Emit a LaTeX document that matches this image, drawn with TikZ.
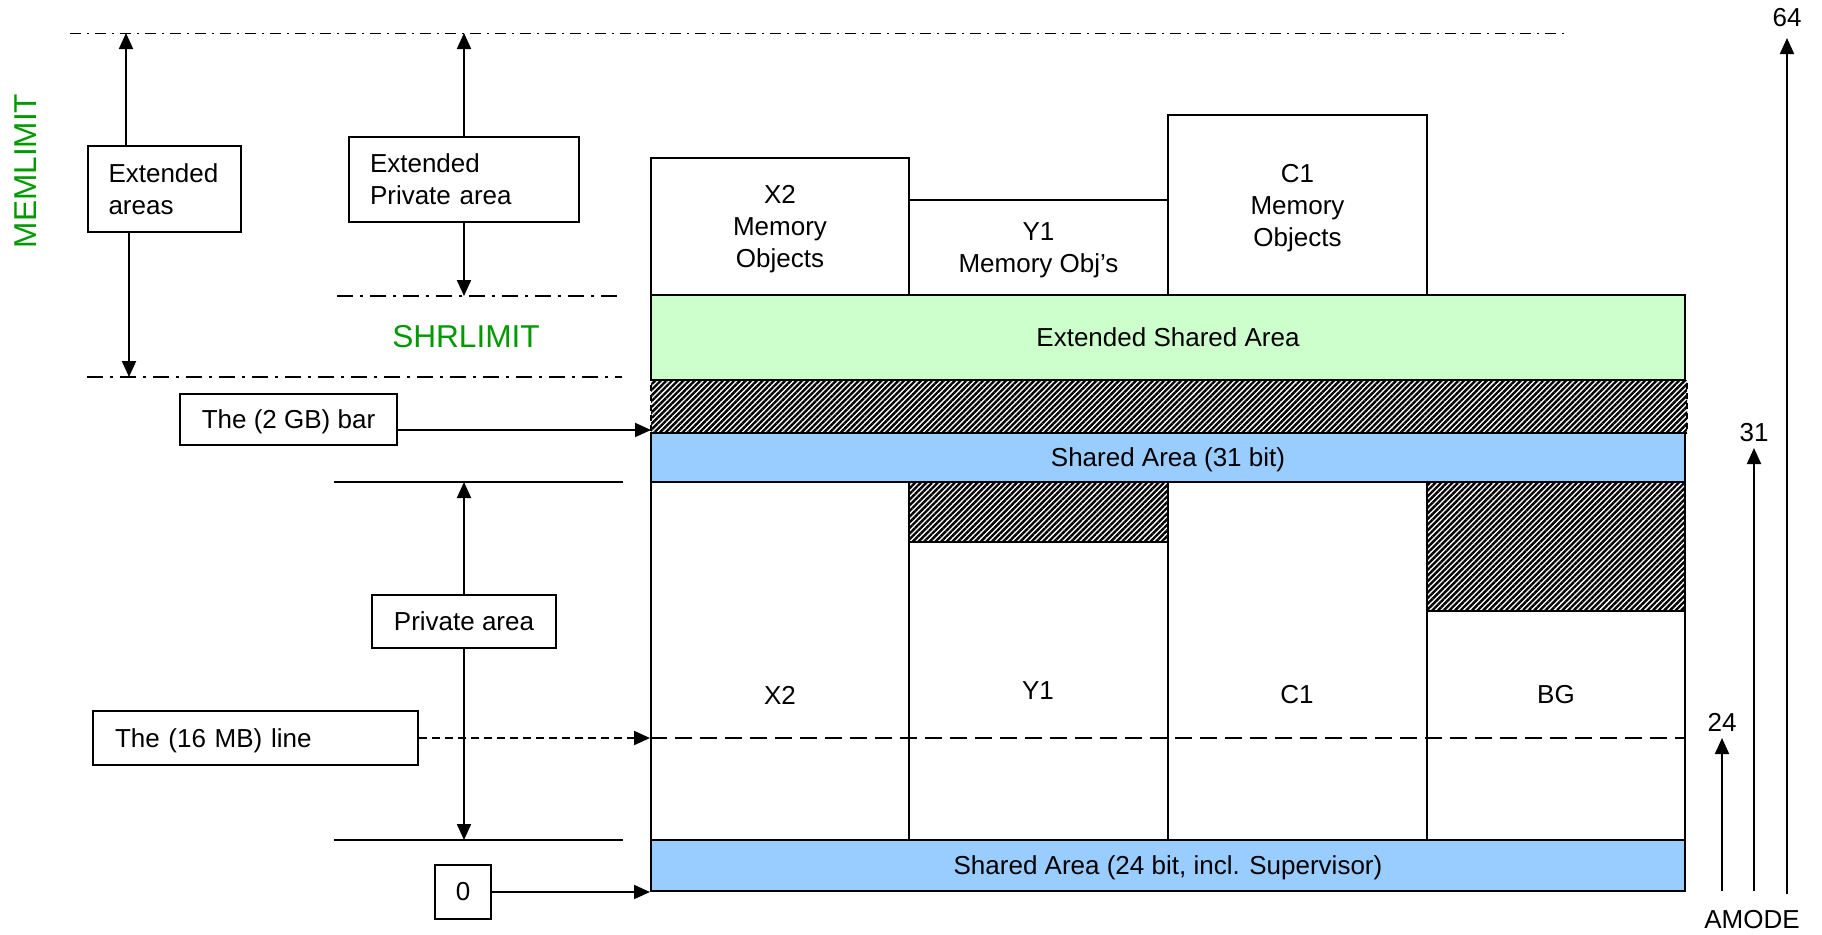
\documentclass[tikz,border=0pt]{standalone}
\usepackage{fontspec}
\setmainfont{Liberation Sans}
\usetikzlibrary{arrows.meta,patterns.meta,calc}
\definecolor{extgreen}{HTML}{CCFFCC}
\definecolor{shblue}{HTML}{99CCFF}
\definecolor{limgreen}{RGB}{0,153,0}
\newcommand\mfs{\fontsize{13pt}{16pt}\selectfont}
\newcommand\gfs{\fontsize{15.8pt}{19pt}\selectfont}
\begin{document}
\begin{tikzpicture}[x=0.5pt,y=-0.5pt,
  region/.style={draw, line width=1pt, inner sep=0pt, font=\mfs, align=center, text depth=0pt},
  hatch/.style={draw, line width=0.8pt, inner sep=0pt, pattern={Lines[angle=45,distance=2pt,line width=1.2pt]}},
  callout/.style={draw, line width=1pt, inner sep=0pt, font=\mfs},
  lbl/.style={font=\mfs, inner sep=0pt},
  arr/.style={-{Triangle[length=8pt,width=7pt]}, line width=1pt},
  finedash/.style={dash pattern=on 4pt off 2.5pt},
  longdash/.style={line width=1pt, dash pattern=on 8.5pt off 4pt},
  dashdotthin/.style={line width=0.5pt, dash pattern=on 5.5pt off 3pt on 1pt off 3pt},
  dashdotthick/.style={line width=1pt, dash pattern=on 8pt off 3.5pt on 1.5pt off 3.5pt},
  plainline/.style={line width=1pt},
  limit/.style={font=\gfs, text=limgreen, inner sep=0pt}
]
\useasboundingbox (0,0) rectangle (1822,934);

% ---- upper memory objects
\node[region, minimum width=129pt, minimum height=68.5pt] (x2obj) at (780,226.5) {X2\\Memory\\Objects};
\node[region, minimum width=129.5pt, minimum height=47.5pt] (y1obj) at (1038.5,247.5) {Y1\\Memory Obj’s};
\node[region, minimum width=129.5pt, minimum height=90pt] (c1obj) at (1297.5,205) {C1\\Memory\\Objects};

% ---- shared areas and bar
\node[region, fill=extgreen, minimum width=517pt, minimum height=42.5pt] (extsh) at (1168,337.5) {Extended Shared Area};
\node[hatch, densely dashed, minimum width=518pt, minimum height=26.5pt] (bar) at (1169,406.5) {};
\node[region, fill=shblue, minimum width=517pt, minimum height=24.5pt] (sh31) at (1168,457.5) {Shared Area (31 bit)};

% ---- private columns
\node[region, minimum width=129pt, minimum height=179pt] (x2col) at (780,661) {};
\node[region, minimum width=129.5pt, minimum height=179pt] (y1col) at (1038.5,661) {};
\node[region, minimum width=129.5pt, minimum height=179pt] (c1col) at (1297.5,661) {};
\node[region, minimum width=129pt, minimum height=179pt] (bgcol) at (1556,661) {};
\node[hatch, minimum width=129.5pt, minimum height=30pt] (y1hatch) at (1038.5,512) {};
\node[hatch, minimum width=129pt, minimum height=64.5pt] (bghatch) at (1556,546.5) {};
\node[lbl] (x2lbl) at (780,695) {X2};
\node[lbl] (y1lbl) at (1038,691) {Y1};
\node[lbl] (c1lbl) at (1297,695) {C1};
\node[lbl] (bglbl) at (1556,695) {BG};
\node[region, fill=shblue, minimum width=517pt, minimum height=25.5pt] (sh24) at (1168,865.5) {Shared Area (24 bit, incl. Supervisor)};

% ---- limit lines
\coordinate (topL) at (70,33);
\coordinate (topR) at (1568,33);
\coordinate (memL) at (87,377);
\coordinate (memR) at (622,377);
\coordinate (shrL) at (337,296);
\coordinate (shrR) at (623,296);
\coordinate (privTL) at (334,482);
\coordinate (privTR) at (623,482);
\coordinate (privBL) at (334,840);
\coordinate (privBR) at (623,840);
\draw[dashdotthin] (topL) -- (topR);
\draw[dashdotthick] (memL) -- (memR);
\draw[dashdotthick] (shrL) -- (shrR);
\draw[plainline] (privTL) -- (privTR);
\draw[plainline] (privBL) -- (privBR);

\node[limit, rotate=90] (memlimit) at (26,171) {MEMLIMIT};
\node[limit] (shrlimit) at (466,337) {SHRLIMIT};

% ---- callouts
\node[callout, text width=56pt, align=left, inner xsep=10.25pt, minimum height=43pt] (extareas) at (164.5,189) {Extended\\areas};
\node[callout, text width=94pt, align=left, inner xsep=10.5pt, minimum height=42.5pt] (extpriv) at (464,179.5) {Extended\\Private area};
\node[callout, text depth=0pt, minimum width=108.5pt, minimum height=25.5pt] (gb) at (288.5,419.5) {The (2 GB) bar};
\node[callout, minimum width=92pt, minimum height=26.5pt] (priv) at (464,621.5) {Private area};
\node[callout, text depth=0pt, text width=140.5pt, align=left, inner xsep=11pt, minimum height=27pt] (mb16) at (255.5,738) {The (16 MB) line};
\node[callout, minimum width=28pt, minimum height=27pt] (zero) at (463,892) {0};

% ---- arrows
\coordinate (eaTop) at (126,33);
\coordinate (eaBot) at (129,377);
\draw[arr] (extareas.north -| eaTop) -- (eaTop);
\draw[arr] (extareas.south -| eaBot) -- (eaBot);
\draw[arr] (extpriv.north) -- (extpriv.north |- topL);
\draw[arr] (extpriv.south) -- (extpriv.south |- shrL);
\draw[arr] (priv.north) -- (priv.north |- privTL);
\draw[arr] (priv.south) -- (priv.south |- privBL);
\coordinate (gbTip) at (651,430);
\draw[arr] (gb.east |- gbTip) -- (gbTip);
\draw[arr, finedash] (mb16.east) -- (mb16.east -| x2col.west);
\draw[longdash] (mb16.east -| x2col.west) -- (mb16.east -| bgcol.east);
\draw[arr] (zero.east) -- (zero.east -| sh24.west);

% ---- AMODE scale
\coordinate (b24) at (1722,891);
\coordinate (b31) at (1754,891);
\coordinate (b64) at (1787,894);
\node[lbl, anchor=south, inner ysep=3pt] (n24) at (1722,738) {24};
\node[lbl, anchor=south, inner ysep=3pt] (n31) at (1754,448) {31};
\node[lbl, anchor=south, inner ysep=5.5pt] (n64) at (1787,38) {64};
\draw[arr] (b24) -- (n24.south);
\draw[arr] (b31) -- (n31.south);
\draw[arr] (b64) -- (n64.south);
\node[lbl] (amode) at (1752,920) {AMODE};
\end{tikzpicture}
\end{document}
